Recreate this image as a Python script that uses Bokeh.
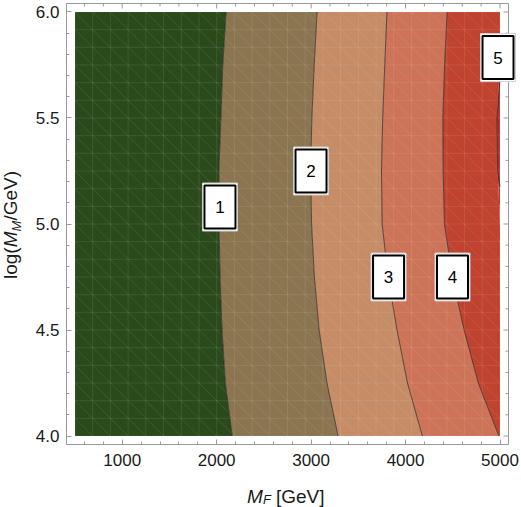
import numpy as np
from bokeh.plotting import figure
from bokeh.models import Range1d, FixedTicker, LinearAxis, Label, PrintfTickFormatter
from bokeh.core.properties import value
from bokeh.embed import file_html
from bokeh.resources import INLINE

# log10(M_M / GeV) sample rows
log_mm = [4.0, 4.25, 4.5, 4.75, 5.0, 5.25, 5.5, 5.75, 6.0]

# M_F [GeV] at which each contour level is reached, per row
level_1 = [2165, 2092, 2057, 2036, 2025, 2024, 2045, 2065, 2100]
level_2 = [3286, 3168, 3085, 3035, 3005, 2995, 3008, 3033, 3063]
level_3 = [4178, 4020, 3910, 3815, 3752, 3745, 3758, 3780, 3803]
level_4 = [4988, 4770, 4620, 4495, 4412, 4398, 4395, 4413, 4440]
level_5 = [5400, 5300, 5220, 5130, 5060, 4975, 4968, 5012, 5080]

# plotted domain
mf_min, mf_max = 500, 5000
lm_min, lm_max = 4.0, 6.0

# contour labels
contour_text = ["1", "2", "3", "4", "5"]
contour_mf = [2035, 2999, 3820, 4497, 4979]
contour_lm = [5.080, 5.250, 4.750, 4.750, 5.785]

# ticks
x_ticks = [1000, 2000, 3000, 4000, 5000]
y_ticks = [4.0, 4.5, 5.0, 5.5, 6.0]

band_colors = ["#2a4a1c", "#8a7550", "#c58c66", "#cd7358", "#c0432f", "#b52e27"]
frame_color = "#9a9a9a"
label_color = "#1a1a1a"
FONT = "Liberation Sans"

# page size and where the drawn frame sits on it (pixels from top-left)
W, H = 521, 507
fr_left, fr_right, fr_top, fr_bottom = 66, 508, 3, 444

# 2% padding around the domain inside the drawn frame
pad_x = 0.02 * (mf_max - mf_min)
pad_y = 0.02 * (lm_max - lm_min)
fx0, fx1 = mf_min - pad_x, mf_max + pad_x
fy0, fy1 = lm_min - pad_y, lm_max + pad_y

# the Bokeh plot area covers the whole page; ranges are widened so the frame
# lands at the pixel box above
kx = (fx1 - fx0) / (fr_right - fr_left)
ky = (fy1 - fy0) / (fr_bottom - fr_top)
x_range = Range1d(fx0 - fr_left * kx, fx1 + (W - fr_right) * kx)
y_range = Range1d(fy0 - (H - fr_bottom) * ky, fy1 + fr_top * ky)

p = figure(width=W, height=H, x_range=x_range, y_range=y_range,
           output_backend="svg", toolbar_location=None,
           min_border=0, x_axis_location=None, y_axis_location=None)
p.grid.visible = False
p.outline_line_color = None
p.background_fill_color = "white"
p.border_fill_color = "white"

y = np.array(log_mm, dtype=float)
bounds = [np.array(b, dtype=float) for b in (level_1, level_2, level_3, level_4, level_5)]
edges = [np.full_like(y, mf_min)] + [np.minimum(b, mf_max) for b in bounds] + [np.full_like(y, mf_max)]

# filled bands between successive contour levels
for i, col in enumerate(band_colors):
    p.harea(x1=edges[i], x2=edges[i + 1], y=y, fill_color=col)

# faint triangulation mesh over the filled area
nx, ny = 24, 24
gx = np.linspace(mf_min, mf_max, nx + 1)
gy = np.linspace(lm_min, lm_max, ny + 1)
mesh = dict(line_color="white", line_alpha=0.09, line_width=1)
p.segment(x0=gx, y0=np.full_like(gx, lm_min), x1=gx, y1=np.full_like(gx, lm_max), **mesh)
p.segment(x0=np.full_like(gy, mf_min), y0=gy, x1=np.full_like(gy, mf_max), y1=gy, **mesh)
cx0, cy0 = np.meshgrid(gx[:-1], gy[1:])
cx1, cy1 = np.meshgrid(gx[1:], gy[:-1])
p.segment(x0=cx0.ravel(), y0=cy0.ravel(), x1=cx1.ravel(), y1=cy1.ravel(), **mesh)


def clip_right(xs, ys, xmax):
    """Keep the part of a polyline with x <= xmax, breaking it with NaN."""
    out_x, out_y = [], []
    for k in range(len(xs)):
        if k > 0 and (xs[k - 1] - xmax) * (xs[k] - xmax) < 0:
            t = (xmax - xs[k - 1]) / (xs[k] - xs[k - 1])
            out_x.append(xmax)
            out_y.append(ys[k - 1] + t * (ys[k] - ys[k - 1]))
            if xs[k] > xmax:
                out_x.append(np.nan)
                out_y.append(np.nan)
        if xs[k] <= xmax:
            out_x.append(xs[k])
            out_y.append(ys[k])
    return out_x, out_y


# contour lines
for b in bounds:
    lx, ly = clip_right(b, y, mf_max)
    p.line(x=lx, y=ly, line_color="#2b2b2b", line_alpha=0.75, line_width=1)

# frame box
p.quad(left=[fx0], right=[fx1], bottom=[fy0], top=[fy1],
       fill_color=None, line_color=frame_color, line_width=1)

x_minor = [v for v in range(600, 5000, 200) if v not in x_ticks]
y_minor = [round(v, 1) for v in np.arange(4.0, 6.0, 0.1) if round(v, 1) not in y_ticks]

# inward ticks mirrored on the top and right edges of the frame
tick = dict(line_color=frame_color, line_width=1, length_units="screen")
p.ray(x=x_ticks, y=[fy1] * len(x_ticks), length=5, angle=-np.pi / 2, **tick)
p.ray(x=x_minor, y=[fy1] * len(x_minor), length=3, angle=-np.pi / 2, **tick)
p.ray(x=[fx1] * len(y_ticks), y=y_ticks, length=5, angle=np.pi, **tick)
p.ray(x=[fx1] * len(y_minor), y=y_minor, length=3, angle=np.pi, **tick)


def style_axis(ax):
    ax.axis_line_color = None
    ax.major_tick_line_color = frame_color
    ax.minor_tick_line_color = frame_color
    ax.major_tick_in = 5
    ax.major_tick_out = 0
    ax.minor_tick_in = 3
    ax.minor_tick_out = 0
    ax.axis_label = None
    ax.major_label_text_font = FONT
    ax.major_label_text_font_size = "17px"
    ax.major_label_text_color = label_color


# bottom and left axes pinned to the frame edges
xax = LinearAxis(ticker=FixedTicker(ticks=x_ticks, minor_ticks=x_minor), fixed_location=fy0)
style_axis(xax)
xax.major_label_standoff = 9
p.add_layout(xax, "below")

yax = LinearAxis(ticker=FixedTicker(ticks=y_ticks, minor_ticks=y_minor),
                 formatter=PrintfTickFormatter(format="%.1f"), fixed_location=fx0)
style_axis(yax)
yax.major_label_standoff = 7
p.add_layout(yax, "left")

# contour labels: white box with black frame and pale rules above/below
p.rect(x=contour_mf, y=contour_lm, width=35, height=48, width_units="screen",
       height_units="screen", fill_color="white", line_color="#d0d0d0", line_width=1)
p.rect(x=contour_mf, y=contour_lm, width=31, height=43, width_units="screen",
       height_units="screen", fill_color="white", line_color="black", line_width=2)
p.text(x=contour_mf, y=contour_lm, text=contour_text, text_font=value(FONT),
       text_font_size="17px", text_color="black", text_align="center",
       text_baseline="middle")

# axis titles built from pieces so that the subscripts can be set
AX = 19
SUB = 13
MID = 0.35  # distance from baseline to the text middle, in em


def mid(baseline, size):
    return baseline - MID * size


xt = dict(x_units="screen", y_units="screen", text_font=FONT, text_color=label_color,
          text_align="left", text_baseline="middle")
p.add_layout(Label(x=246.5, y=H - mid(502.5, AX), text="M", text_font_style="italic",
                   text_font_size=f"{AX}px", **xt))
p.add_layout(Label(x=262.5, y=H - mid(504, SUB), text="F", text_font_style="italic",
                   text_font_size=f"{SUB}px", **xt))
p.add_layout(Label(x=275.5, y=H - mid(502.5, AX), text="[GeV]",
                   text_font_size=f"{AX}px", **xt))

# rotated title: "up" points left, so the middle sits left of the baseline
yt = dict(xt, angle=np.pi / 2)
p.add_layout(Label(x=mid(17, AX), y=H - 278.5, text="log(", text_font_size=f"{AX}px", **yt))
p.add_layout(Label(x=mid(17, AX), y=H - 246.8, text="M", text_font_style="italic",
                   text_font_size=f"{AX}px", **yt))
p.add_layout(Label(x=mid(20.5, SUB), y=H - 231, text="M", text_font_style="italic",
                   text_font_size=f"{SUB}px", **yt))
p.add_layout(Label(x=mid(17, AX), y=H - 220, text="/GeV)", text_font_size=f"{AX}px", **yt))

open("out.html", "w").write(file_html(p, INLINE))
